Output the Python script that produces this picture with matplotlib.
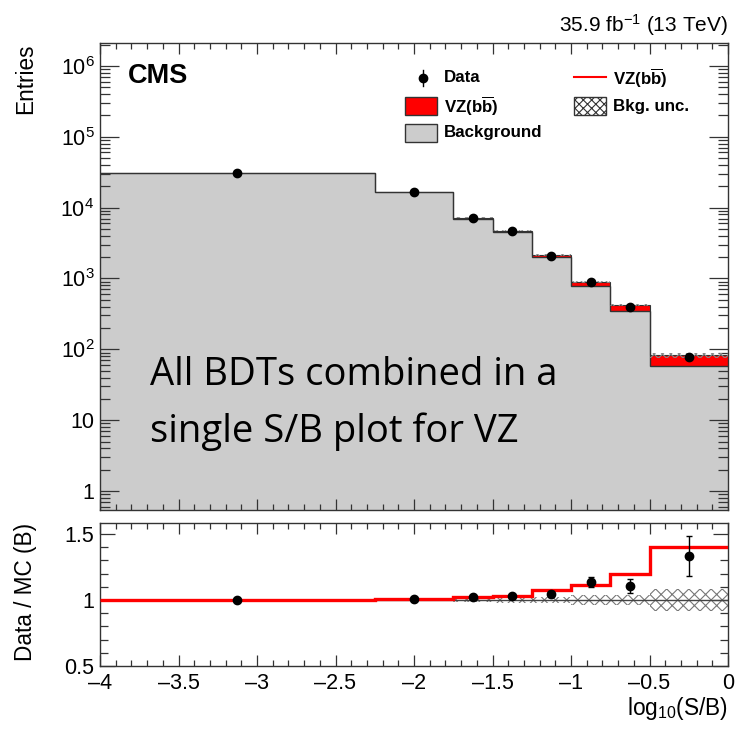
import numpy as np
import matplotlib
matplotlib.use('Agg')
import matplotlib.pyplot as plt
from matplotlib.patches import Rectangle
from matplotlib.lines import Line2D
from matplotlib.ticker import FixedLocator, FuncFormatter, MultipleLocator, LogLocator, NullFormatter

# ---------------- data ----------------
bin_edges = [-4.0, -2.25, -1.75, -1.5, -1.25, -1.0, -0.75, -0.5, 0.0]
background = [30800, 16500, 7000, 4550, 1980, 790, 352, 58.5]
signal = [62, 132, 140, 150, 150, 92, 69, 23.6]
data = [30800, 16580, 7160, 4680, 2069, 897, 389, 78]
bkg_rel_unc = [0.004, 0.01, 0.015, 0.02, 0.025, 0.035, 0.04, 0.08]

y_ticks_top = [1, 10, 100, 1e3, 1e4, 1e5, 1e6]
y_ticks_ratio = [0.5, 1.0, 1.5]

plt.rcParams['font.family'] = ['Liberation Sans', 'DejaVu Sans']
plt.rcParams['mathtext.fontset'] = 'custom'
plt.rcParams['mathtext.rm'] = 'Liberation Sans'
plt.rcParams['mathtext.it'] = 'Liberation Sans:italic'
plt.rcParams['mathtext.bf'] = 'Liberation Sans:bold'
plt.rcParams['hatch.linewidth'] = 0.8

W, H = 738, 739
fig = plt.figure(figsize=(W / 100, H / 100), dpi=100)
fig.patch.set_facecolor('white')

def fx(px):
    return px / W

def fy(py):
    return 1 - py / H

ax = fig.add_axes([fx(100), fy(510), fx(728) - fx(100), fy(43) - fy(510)])
ax2 = fig.add_axes([fx(100), fy(666), fx(728) - fx(100), fy(523) - fy(666)])

edges = np.array(bin_edges)
bkg = np.array(background, dtype=float)
sig = np.array(signal, dtype=float)
dat = np.array(data, dtype=float)
unc = np.array(bkg_rel_unc)
tot = bkg + sig
centers = 0.5 * (edges[:-1] + edges[1:])

GRAY = '#cccccc'
RED = '#ff0000'

# ---------------- top panel ----------------
ax.set_yscale('log')
ax.stairs(bkg, edges, baseline=1e-3, fill=True, color=GRAY, zorder=1)
ax.stairs(tot, edges, baseline=bkg, fill=True, facecolor=RED, edgecolor='none', zorder=2)
ax.stairs(bkg, edges, baseline=None, color='#333333', lw=1.0, zorder=3)
ax.stairs(tot, edges, baseline=None, color='#333333', lw=0.8, zorder=3)
ax.stairs(tot * (1 + unc), edges, baseline=tot * (1 - unc), fill=True, facecolor='none',
          edgecolor='#888888', hatch='xxxx', lw=0, zorder=4)
ax.errorbar(centers, dat, yerr=np.sqrt(dat), fmt='o', color='black', ms=6,
            elinewidth=1, capsize=0, zorder=5)

ax.set_xlim(-4, 0)
ax.set_ylim(0.54, 2.1e6)

def logfmt(v, pos):
    if v == 1:
        return '1'
    if v == 10:
        return '10'
    e = int(round(np.log10(v)))
    return r'$10^{%d}$' % e

ax.yaxis.set_major_locator(FixedLocator(y_ticks_top))
ax.yaxis.set_major_formatter(FuncFormatter(logfmt))
ax.yaxis.set_minor_locator(LogLocator(base=10, subs=np.arange(2, 10)))
ax.yaxis.set_minor_formatter(NullFormatter())
ax.xaxis.set_major_locator(MultipleLocator(0.5))
ax.xaxis.set_minor_locator(MultipleLocator(0.1))
ax.tick_params(axis='x', labelbottom=False)

for a in (ax, ax2):
    a.tick_params(which='both', direction='in', top=True, right=True, width=0.9,
                  colors='#333333', labelcolor='black', labelsize=15.5)
    a.tick_params(axis='x', which='major', length=8)
    a.tick_params(axis='x', which='minor', length=4)
    for s in a.spines.values():
        s.set_color('#333333')
        s.set_linewidth(1.0)
ax.tick_params(axis='y', which='major', length=14, pad=4)
ax.tick_params(axis='y', which='minor', length=7)

# ---------------- ratio panel ----------------
ratio_sig = tot / bkg
ratio_dat = dat / bkg
ratio_err = np.sqrt(dat) / bkg

ax2.stairs(1 + unc, edges, baseline=1 - unc, fill=True, facecolor='none',
           edgecolor='#777777', hatch='xxx', lw=0, zorder=1)
ax2.axhline(1.0, color='#444444', lw=1.0, zorder=2)
ax2.stairs(ratio_sig, edges, baseline=None, color=RED, lw=2.4, zorder=3)
ax2.errorbar(centers, ratio_dat, yerr=ratio_err, fmt='o', color='black', ms=6,
             elinewidth=1, capsize=2.5, capthick=1, zorder=5)

ax2.set_xlim(-4, 0)
ax2.set_ylim(0.5, 1.583)
ax2.yaxis.set_major_locator(FixedLocator(y_ticks_ratio))
ax2.yaxis.set_major_formatter(FuncFormatter(lambda v, p: '%g' % v))
ax2.yaxis.set_minor_locator(MultipleLocator(0.1))
ax2.xaxis.set_major_locator(MultipleLocator(0.5))
ax2.xaxis.set_minor_locator(MultipleLocator(0.1))
ax2.xaxis.set_major_formatter(FuncFormatter(lambda v, p: ('%g' % v).replace('-', '\u2013') if abs(v) > 1e-9 else '0'))
ax2.tick_params(axis='y', which='major', length=11, pad=4)
ax2.tick_params(axis='y', which='minor', length=6)
ax2.tick_params(axis='x', which='major', pad=5)

# ---------------- labels ----------------
fig.text(fx(26), fy(43), 'Entries', rotation=90, ha='center', va='top', fontsize=16.3)
fig.text(fx(26), fy(523), 'Data / MC (B)', rotation=90, ha='center', va='top', fontsize=16.3)
fig.text(fx(728), fy(715), r'log$_{10}$(S/B)', ha='right', va='baseline', fontsize=16.3)
fig.text(fx(728), fy(32), r'35.9 fb$^{-1}$ (13 TeV)', ha='right', va='baseline', fontsize=15)
fig.text(fx(128), fy(83), 'CMS', ha='left', va='baseline', fontsize=19.5, fontweight='bold')

# overlay annotation
fig.text(fx(150), fy(385), 'All BDTs combined in a', ha='left', va='baseline',
         fontsize=27.5, family=['Open Sans', 'DejaVu Sans'])
fig.text(fx(150), fy(442), 'single S/B plot for VZ', ha='left', va='baseline',
         fontsize=27.5, family=['Open Sans', 'DejaVu Sans'])

# ---------------- legend (manual, ROOT style) ----------------
LFS = 12.2
def legend_text(px, py, s):
    fig.text(fx(px), fy(py), s, ha='left', va='center', fontsize=LFS, fontweight='bold')

def box(x0, x1, y0, y1, **kw):
    r = Rectangle((fx(x0), fy(y1)), fx(x1) - fx(x0), fy(y0) - fy(y1),
                  transform=fig.transFigure, **kw)
    fig.add_artist(r)

VZ_LABEL = r'VZ(b$\overline{\mathbf{b}}$)'

# Data
fig.add_artist(Line2D([fx(423)], [fy(78)], marker='o', color='black', ms=6,
                      transform=fig.transFigure))
fig.add_artist(Line2D([fx(423), fx(423)], [fy(70), fy(86)], color='black', lw=1,
                      transform=fig.transFigure))
legend_text(444, 78, 'Data')
# VZ box
box(405, 437, 97, 115, facecolor=RED, edgecolor='#333333', lw=1)
legend_text(444, 106, VZ_LABEL)
# Background box
box(405, 437, 124, 142, facecolor=GRAY, edgecolor='#333333', lw=1)
legend_text(444, 133, 'Background')
# VZ line
fig.add_artist(Line2D([fx(574), fx(606)], [fy(77), fy(77)], color=RED, lw=1.5,
                      transform=fig.transFigure))
legend_text(613, 78, VZ_LABEL)
# Bkg unc
box(574, 606, 97, 115, facecolor='white', edgecolor='#333333', lw=1, hatch='xxxx')
legend_text(613, 106, 'Bkg. unc.')

fig.savefig('out.png', dpi=100, facecolor='white')
